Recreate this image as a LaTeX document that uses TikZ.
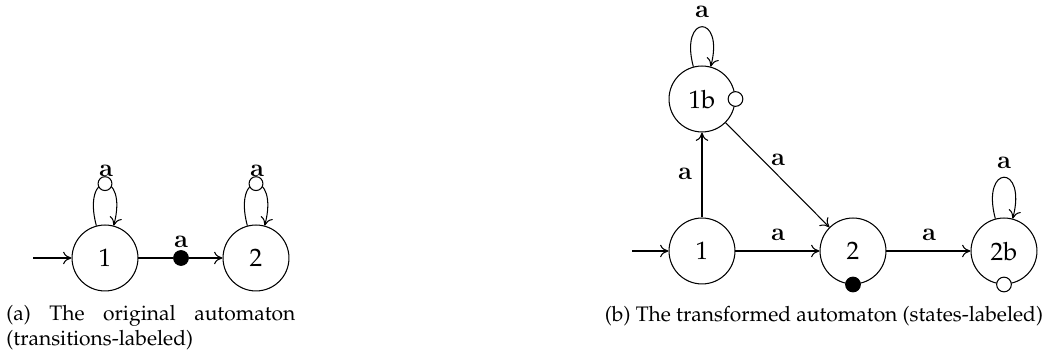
\documentclass[tikz,border=0pt]{standalone}
\usepackage[T1]{fontenc}
\usepackage{mathpazo}
\usetikzlibrary{arrows.meta}
\newcommand{\labfont}{\fontencoding{OT1}\fontfamily{cmr}\fontseries{bx}\fontshape{n}\fontsize{12}{14}\selectfont}
\tikzset{
  state/.style={circle, draw, line width=0.5pt, minimum size=31.4pt, inner sep=0pt, font=\fontsize{12}{14}\selectfont},
  lab/.style={font=\labfont, inner sep=0pt},
  odot/.style={circle, draw, fill=white, line width=0.5pt, minimum size=6.6pt, inner sep=0pt},
  fdot/.style={circle, draw, fill=black, line width=0.5pt, minimum size=7.0pt, inner sep=0pt},
  conn/.style={line width=0.5pt},
  captxt/.style={font=\fontsize{10}{11.9}\selectfont, inner sep=0pt},
  >={To[length=4pt,width=6pt]}
}
\begin{document}
\begin{tikzpicture}[x=0.4762pt,y=-0.4762pt]
\useasboundingbox (0,0) rectangle (1045,354);
% ---------- (a) ----------
\node[state] (a1) at (105,258) {1};
\node[state] (a2) at (256,258) {2};
\coordinate (a0) at (33,258);
\draw[conn,->] (a0) -- (a1);
\node[fdot] (ad) at (181,258) {};
\draw[conn] (a1) -- (ad);
\draw[conn,->] (ad) -- (a2);
\node[lab, anchor=base] (lad) at (181,248) {a};
\draw[conn,->] (a1.105) .. controls +(-105:58) and +(-75:58) .. node[odot, pos=0.5] (ao1) {} (a1.75);
\draw[conn,->] (a2.105) .. controls +(-105:58) and +(-75:58) .. node[odot, pos=0.5] (ao2) {} (a2.75);
\node[lab, anchor=base] (la1) at (106,177) {a};
\node[lab, anchor=base] (la2) at (257,177) {a};
\node[captxt, text width=137.6pt, align=justify, anchor=north west] (capa) at (6,305)
  {\hyphenpenalty=10000 (a) The original automaton (transitions-labeled)};
% ---------- (b) ----------
\node[state] (b1) at (702,251) {1};
\node[state] (b2) at (853,251) {2};
\node[state] (b2b) at (1004,251) {2b};
\node[state] (b1b) at (702,99) {1b};
\coordinate (b0) at (632,251);
\draw[conn,->] (b0) -- (b1);
\draw[conn,->] (b1) -- (b1b);
\draw[conn,->] (b1b) -- (b2);
\draw[conn,->] (b1) -- (b2);
\draw[conn,->] (b2) -- (b2b);
\draw[conn,->] (b1b.105) .. controls +(-105:55) and +(-75:55) .. (b1b.75);
\draw[conn,->] (b2b.105) .. controls +(-105:57) and +(-75:57) .. (b2b.75);
\node[odot, minimum size=7pt] (o1b) at (b1b.east) {};
\node[fdot] (f2) at (b2.south) {};
\node[odot, minimum size=7pt] (o2b) at (b2b.south) {};
\node[lab, anchor=base] (l1bl) at (702,18) {a};
\node[lab, anchor=base] (l11b) at (685,180) {a};
\node[lab, anchor=base] (l1b2) at (778,166) {a};
\node[lab, anchor=base] (l12) at (778,241) {a};
\node[lab, anchor=base] (l22b) at (929,241) {a};
\node[lab, anchor=base] (l2bl) at (1004,169) {a};
\node[captxt, anchor=base] (capb) at (824,322) {(b) The transformed automaton (states-labeled)};
\end{tikzpicture}
\end{document}
